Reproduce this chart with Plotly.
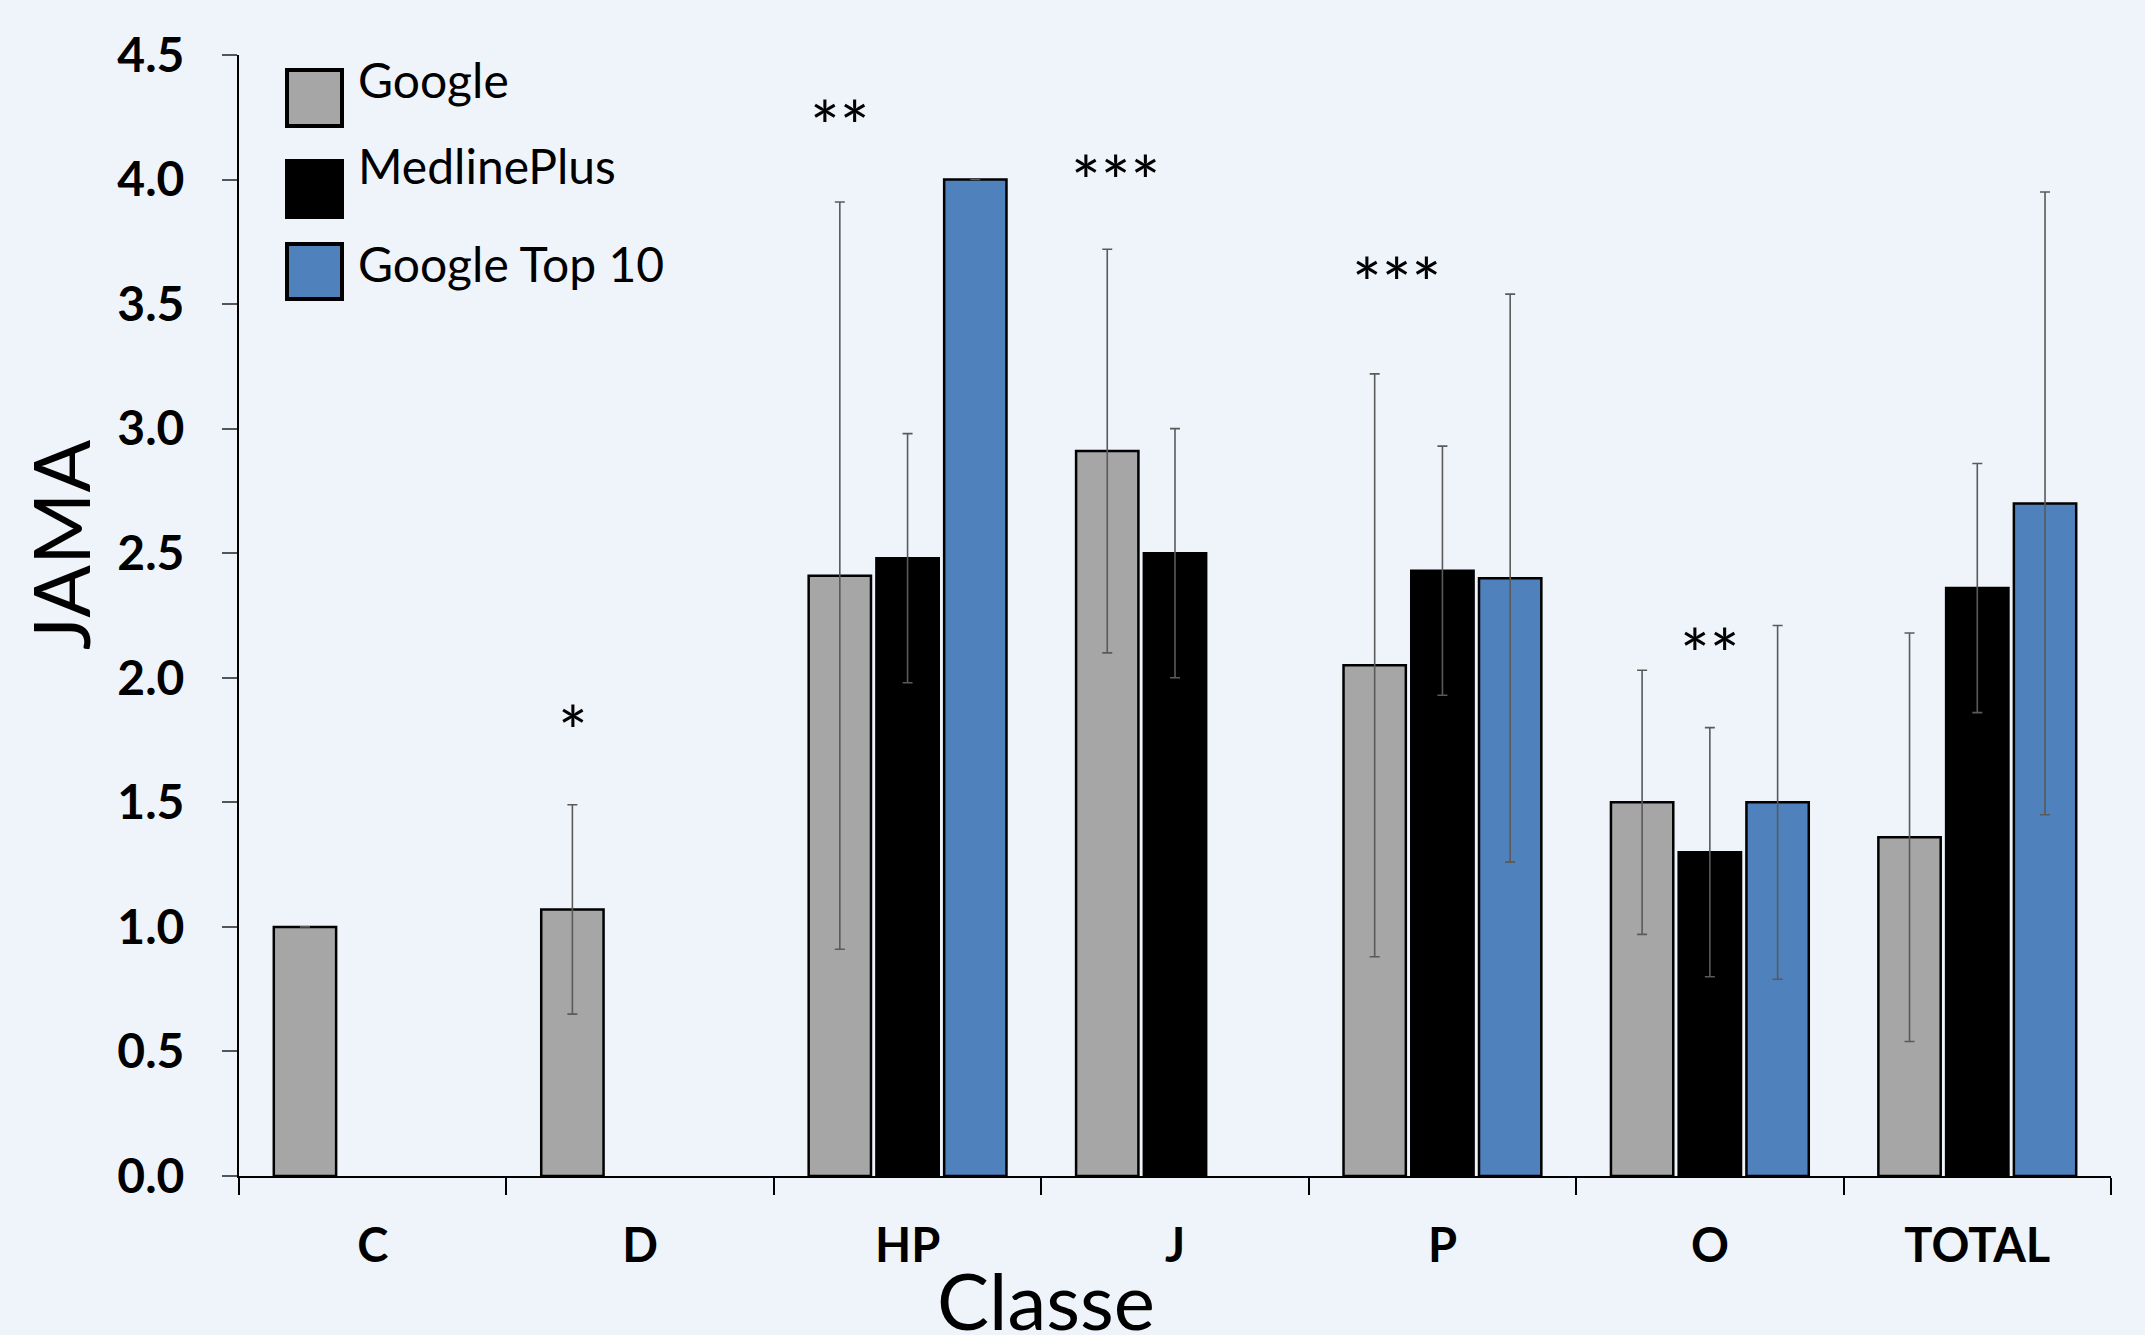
import plotly.graph_objects as go

# ---------------- data ----------------
categories = ["C", "D", "HP", "J", "P", "O", "TOTAL"]
series_names = ["Google", "MedlinePlus", "Google Top 10"]

google = [1.00, 1.07, 2.41, 2.91, 2.05, 1.50, 1.36]
google_err = [0.00, 0.42, 1.50, 0.81, 1.17, 0.53, 0.82]

medline = [None, None, 2.48, 2.50, 2.43, 1.30, 2.36]
medline_err = [0, 0, 0.50, 0.50, 0.50, 0.50, 0.50]

top10 = [None, None, 4.00, None, 2.40, 1.50, 2.70]
top10_err = [0, 0, 0.00, 0, 1.14, 0.71, 1.25]

sig_labels = ["*", "**", "***", "***", "**"]
sig_categories = ["D", "HP", "J", "P", "O"]
sig_y = [1.79, 4.22, 4.00, 3.59, 2.10]
sig_xshift = [-67, -68, -60, -46, 0]

y_ticks = [0.0, 0.5, 1.0, 1.5, 2.0, 2.5, 3.0, 3.5, 4.0, 4.5]

colors = ["#A6A6A6", "#000000", "#4F81BD"]
BG = "#EFF4FB"
FONT = "Lato"

W, H = 2145, 1335
L, R, T, B = 239, 34, 55, 159


def px(x, y):
    """pixel -> paper coordinates"""
    return (x - L) / (W - L - R), (H - B - y) / (H - T - B)


fig = go.Figure()
for name, vals, errs, col in zip(series_names, [google, medline, top10],
                                 [google_err, medline_err, top10_err], colors):
    fig.add_trace(go.Bar(
        x=categories, y=vals, name=name,
        marker=dict(color=col, line=dict(color="#000000", width=2.5)),
        error_y=dict(type="data", array=errs, visible=True,
                     color="#5A5A5A", thickness=1.6, width=5),
        showlegend=False,
    ))

annotations = []
for lab, cat, yv, xs in zip(sig_labels, sig_categories, sig_y, sig_xshift):
    annotations.append(dict(x=cat, y=yv, xref="x", yref="y", text=lab,
                            showarrow=False, xshift=xs,
                            font=dict(family=FONT, size=70, color="#000000")))

# axis titles as annotations
ax, ay = px(60, 545)
annotations.append(dict(x=ax, y=ay, xref="paper", yref="paper", text="JAMA",
                        textangle=-90, showarrow=False, xanchor="center", yanchor="middle",
                        font=dict(family=FONT, size=78, color="#000000")))
cx, cy = px(1046, 1300)
annotations.append(dict(x=cx, y=cy, xref="paper", yref="paper", text="Classe",
                        showarrow=False, xanchor="center", yanchor="middle",
                        font=dict(family=FONT, size=78, color="#000000")))

# manual legend
shapes = []
legend_boxes = [(287, 70, 342, 126), (287, 161, 342, 217), (287, 244, 342, 299)]
legend_text_y = [80, 165, 263]
for (x0, y0, x1, y1), name, col, ty in zip(legend_boxes, series_names, colors, legend_text_y):
    px0, py0 = px(x0, y1)
    px1, py1 = px(x1, y0)
    shapes.append(dict(type="rect", xref="paper", yref="paper", x0=px0, y0=py0, x1=px1, y1=py1,
                       fillcolor=col, line=dict(color="#000000", width=4)))
    tx, tyy = px(356, ty)
    annotations.append(dict(x=tx, y=tyy, xref="paper", yref="paper", text=name,
                            showarrow=False, xanchor="left", yanchor="middle",
                            font=dict(family=FONT, size=48, color="#000000")))

fig.update_layout(
    width=W, height=H,
    margin=dict(l=L, r=R, t=T, b=B, pad=0),
    paper_bgcolor=BG, plot_bgcolor=BG,
    barmode="group", bargap=0.24, bargroupgap=0.08,
    annotations=annotations, shapes=shapes,
    showlegend=False,
)
fig.update_xaxes(
    type="category", categoryorder="array", categoryarray=categories,
    showline=True, linecolor="#000000", linewidth=2,
    ticks="outside", tickson="boundaries", ticklen=17, tickwidth=2, tickcolor="#000000",
    tickfont=dict(family=FONT, size=47, color="#000000", weight="bold"),
    ticklabelstandoff=28, showgrid=False, zeroline=False,
)
fig.update_yaxes(
    range=[0, 4.5], tickvals=y_ticks, ticktext=[f"{v:.1f}" for v in y_ticks],
    showline=True, linecolor="#000000", linewidth=2,
    ticks="outside", ticklen=15, tickwidth=2, tickcolor="#555555",
    tickfont=dict(family=FONT, size=48, color="#000000", weight="bold"),
    ticklabelstandoff=28, showgrid=False, zeroline=False,
)

fig.write_html("out.html", config={"displayModeBar": False},
               post_script="document.body.style.margin='0';")
